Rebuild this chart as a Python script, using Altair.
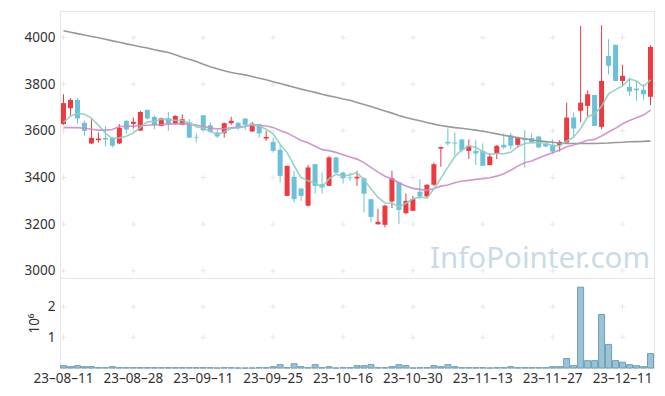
import altair as alt
import pandas as pd

# ---- data ----
dates = [
    "23-08-11", "23-08-14", "23-08-16", "23-08-17", "23-08-18", "23-08-21", "23-08-22", "23-08-23", "23-08-24", "23-08-25",
    "23-08-28", "23-08-29", "23-08-30", "23-08-31", "23-09-01", "23-09-04", "23-09-05", "23-09-06", "23-09-07", "23-09-08",
    "23-09-11", "23-09-12", "23-09-13", "23-09-14", "23-09-15", "23-09-18", "23-09-19", "23-09-20", "23-09-21", "23-09-22",
    "23-09-25", "23-09-26", "23-09-27", "23-10-04", "23-10-05", "23-10-06", "23-10-10", "23-10-11", "23-10-12", "23-10-13",
    "23-10-16", "23-10-17", "23-10-18", "23-10-19", "23-10-20", "23-10-23", "23-10-24", "23-10-25", "23-10-26", "23-10-27",
    "23-10-30", "23-10-31", "23-11-01", "23-11-02", "23-11-03", "23-11-06", "23-11-07", "23-11-08", "23-11-09", "23-11-10",
    "23-11-13", "23-11-14", "23-11-15", "23-11-16", "23-11-17", "23-11-20", "23-11-21", "23-11-22", "23-11-23", "23-11-24",
    "23-11-27", "23-11-28", "23-11-29", "23-11-30", "23-12-01", "23-12-04", "23-12-05", "23-12-06", "23-12-07", "23-12-08",
    "23-12-11", "23-12-12", "23-12-13", "23-12-14", "23-12-15",
]
opens = [
    3629, 3697, 3733, 3634, 3546, 3560, 3570, 3570, 3546, 3643,
    3630, 3601, 3690, 3660, 3621, 3654, 3630, 3626, 3636, 3574,
    3667, 3624, 3593, 3590, 3633, 3634, 3653, 3597, 3629, 3567,
    3553, 3519, 3321, 3403, 3353, 3279, 3457, 3371, 3364, 3486,
    3421, 3400, 3396, 3397, 3307, 3199, 3197, 3297, 3379, 3247,
    3257, 3339, 3319, 3369, 3524, 3553, 3550, 3563, 3514, 3514,
    3514, 3453, 3503, 3540, 3581, 3540, 3567, 3569, 3576, 3543,
    3540, 3539, 3550, 3657, 3686, 3707, 3754, 3617, 3921, 3969,
    3814, 3789, 3781, 3776, 3746,
]
highs = [
    3757, 3740, 3740, 3643, 3650, 3593, 3620, 3574, 3629, 3646,
    3657, 3686, 3690, 3667, 3657, 3681, 3667, 3671, 3650, 3589,
    3667, 3636, 3603, 3636, 3660, 3639, 3653, 3639, 3631, 3600,
    3571, 3540, 3450, 3429, 3353, 3454, 3457, 3421, 3493, 3489,
    3426, 3421, 3429, 3400, 3307, 3266, 3283, 3429, 3383, 3331,
    3321, 3393, 3371, 3464, 3531, 3610, 3593, 3567, 3563, 3560,
    3546, 3503, 3539, 3589, 3591, 3574, 3603, 3589, 3576, 3557,
    3564, 3560, 3721, 3679, 4050, 3774, 3754, 4053, 3993, 3969,
    3883, 3829, 3814, 3800, 3967,
]
lows = [
    3626, 3664, 3629, 3579, 3543, 3550, 3534, 3529, 3543, 3589,
    3610, 3600, 3649, 3607, 3619, 3600, 3627, 3624, 3569, 3550,
    3600, 3591, 3569, 3571, 3626, 3603, 3603, 3597, 3571, 3557,
    3507, 3379, 3321, 3293, 3300, 3276, 3331, 3331, 3364, 3414,
    3374, 3386, 3364, 3250, 3207, 3199, 3186, 3269, 3200, 3243,
    3257, 3307, 3314, 3364, 3446, 3536, 3496, 3507, 3479, 3454,
    3450, 3453, 3479, 3521, 3521, 3529, 3443, 3546, 3526, 3529,
    3500, 3511, 3546, 3571, 3636, 3664, 3621, 3607, 3843, 3814,
    3793, 3750, 3729, 3733, 3711,
]
closes = [
    3719, 3733, 3653, 3600, 3570, 3567, 3563, 3536, 3613, 3606,
    3639, 3681, 3653, 3624, 3654, 3630, 3664, 3650, 3571, 3571,
    3603, 3596, 3576, 3633, 3643, 3614, 3626, 3631, 3589, 3574,
    3514, 3407, 3450, 3307, 3321, 3443, 3364, 3357, 3486, 3421,
    3397, 3397, 3403, 3331, 3231, 3210, 3279, 3397, 3261, 3300,
    3307, 3319, 3369, 3457, 3531, 3546, 3546, 3517, 3536, 3503,
    3450, 3490, 3536, 3529, 3536, 3569, 3560, 3550, 3529, 3533,
    3511, 3553, 3657, 3610, 3721, 3757, 3621, 3814, 3879, 3814,
    3836, 3769, 3774, 3757, 3960,
]
volumes_m = [  # millions of shares
    0.077, 0.044, 0.077, 0.044, 0.044, 0.01, 0.01, 0.044, 0.01, 0.01,
    0.01, 0.01, 0.01, 0.01, 0.01, 0.01, 0.01, 0.01, 0.01, 0.01,
    0.01, 0.01, 0.0, 0.01, 0.01, 0.0, 0.0, 0.0, 0.01, 0.01,
    0.044, 0.11, 0.01, 0.14, 0.044, 0.01, 0.11, 0.01, 0.044, 0.0,
    0.01, 0.01, 0.077, 0.077, 0.11, 0.01, 0.01, 0.044, 0.11, 0.077,
    0.0, 0.01, 0.01, 0.077, 0.044, 0.11, 0.044, 0.01, 0.01, 0.01,
    0.01, 0.0, 0.01, 0.01, 0.044, 0.01, 0.01, 0.01, 0.01, 0.01,
    0.044, 0.044, 0.31, 0.077, 2.64, 0.24, 0.24, 1.75, 0.77, 0.24,
    0.19, 0.11, 0.077, 0.044, 0.47,
]
ma5_head = [3636, 3664, 3674, 3671]
ma20_head = [3614, 3614, 3614, 3611, 3607, 3603, 3603, 3606, 3619, 3620,
             3620, 3623, 3624, 3626, 3626, 3629, 3630, 3631, 3629]
ma120 = [
    4029, 4023, 4017, 4011, 4005, 3999, 3993, 3986, 3980, 3973,
    3967, 3961, 3955, 3948, 3942, 3936, 3926, 3916, 3907, 3897,
    3886, 3875, 3866, 3858, 3850, 3845, 3840, 3833, 3826, 3819,
    3811, 3803, 3795, 3787, 3779, 3772, 3765, 3757, 3750, 3744,
    3737, 3731, 3722, 3713, 3704, 3695, 3685, 3676, 3666, 3657,
    3650, 3643, 3636, 3629, 3623, 3618, 3614, 3611, 3607, 3603,
    3598, 3593, 3587, 3581, 3576, 3571, 3566, 3561, 3557, 3554,
    3551, 3548, 3546, 3546, 3546, 3546, 3546, 3547, 3548, 3550,
    3551, 3553, 3554, 3555, 3557,
]
price_ticks = [3000, 3200, 3400, 3600, 3800, 4000]
vol_ticks = [1, 2]
x_ticks = ["23-08-11", "23-08-28", "23-09-11", "23-09-25", "23-10-16",
           "23-10-30", "23-11-13", "23-11-27", "23-12-11"]
watermark = "InfoPointer.com"

# ---- tables ----
df = pd.DataFrame({"date": dates, "open": opens, "high": highs, "low": lows,
                   "close": closes, "volume": volumes_m, "ma120": ma120})
df["ma5"] = ma5_head + list(df["close"].rolling(5).mean().iloc[4:])
df["ma20"] = ma20_head + list(df["close"].rolling(20).mean().iloc[19:])
df["dir"] = ["up" if c >= o else "down" for o, c in zip(opens, closes)]

grid_price = pd.DataFrame([{"date": d, "v": v} for d in x_ticks for v in price_ticks])
grid_vol = pd.DataFrame([{"date": d, "v": v} for d in x_ticks for v in vol_ticks])

FONT = "Noto Sans"
FS = 13.5
RED = "#ec3a41"
BLUE = "#6cc0d8"
CROSS = "M-1,0L1,0M0,-1L0,1"

xscale = alt.Scale(type="band", domain=dates, paddingInner=0, paddingOuter=0)
pscale = alt.Scale(domain=[2969, 4114], nice=False, zero=False)
vscale = alt.Scale(domain=[0, 2.94], nice=False, zero=True)
col = alt.Color("dir:N", scale=alt.Scale(domain=["up", "down"], range=[RED, BLUE]), legend=None)

X0 = alt.X("date:N", scale=xscale, axis=None, sort=None)

base = alt.Chart(df)

p_grid = alt.Chart(grid_price).mark_point(shape=CROSS, size=30, filled=False,
                                           strokeWidth=1, color="#dedede").encode(
    x=X0,
    y=alt.Y("v:Q", scale=pscale,
            axis=alt.Axis(values=price_ticks, title=None, ticks=False, labelPadding=5,
                          grid=False, format="d")),
)
wicks = base.mark_rule(strokeWidth=1).encode(x=X0, y=alt.Y("low:Q", scale=pscale), y2="high:Q", color=col)
bodies = base.mark_bar(size=5).encode(x=X0, y=alt.Y("open:Q", scale=pscale), y2="close:Q", color=col)
l120 = base.mark_line(color="#999999", strokeWidth=1.6).encode(x=X0, y=alt.Y("ma120:Q", scale=pscale))
l20 = base.mark_line(color="#cc8cc6", strokeWidth=1.6, opacity=0.9).encode(x=X0, y=alt.Y("ma20:Q", scale=pscale))
l5 = base.mark_line(color="#8fcdc1", strokeWidth=1.6, opacity=0.9).encode(x=X0, y=alt.Y("ma5:Q", scale=pscale))
wm = alt.Chart(pd.DataFrame({"t": [watermark]})).mark_text(
    align="right", baseline="alphabetic", fontSize=29.5, font=FONT, color="#c9dbe7"
).encode(x=alt.value(590), y=alt.value(257), text="t:N")

price = alt.layer(p_grid, wm, wicks, bodies, l120, l20, l5).properties(width=594, height=267)

X1 = alt.X("date:N", scale=xscale, sort=None,
           axis=alt.Axis(values=x_ticks, title=None, ticks=False, labelAngle=0, labelPadding=3,
                         labelExpr="replace(datum.label, regexp('-', 'g'), '\u2013')"))
v_grid = alt.Chart(grid_vol).mark_point(shape=CROSS, size=30, filled=False,
                                         strokeWidth=1, color="#dedede").encode(
    x=X1,
    y=alt.Y("v:Q", scale=vscale,
            axis=alt.Axis(values=vol_ticks, title="10\u2076", ticks=False, labelPadding=5,
                          grid=False, titlePadding=6, titleFontWeight="normal")),
)
vbars = base.mark_bar(size=6, color="#9cc3d5", stroke="#6c9fb8", strokeWidth=1).encode(
    x=X1, y=alt.Y("volume:Q", scale=vscale)
)
volume = alt.layer(v_grid, vbars).properties(width=594, height=90)

chart = alt.vconcat(price, volume, spacing=0, bounds="flush").resolve_scale(x="shared").properties(
    padding={"left": 15, "top": 2, "right": 2, "bottom": 0}
).configure_view(stroke="#e6e6e6").configure_axis(
    labelFont=FONT, labelFontSize=FS, labelColor="#333333",
    titleFont=FONT, titleFontSize=FS, titleColor="#333333",
    domainColor="#e6e6e6",
)

chart.save("out.html", embed_options={"renderer": "svg", "actions": False})
